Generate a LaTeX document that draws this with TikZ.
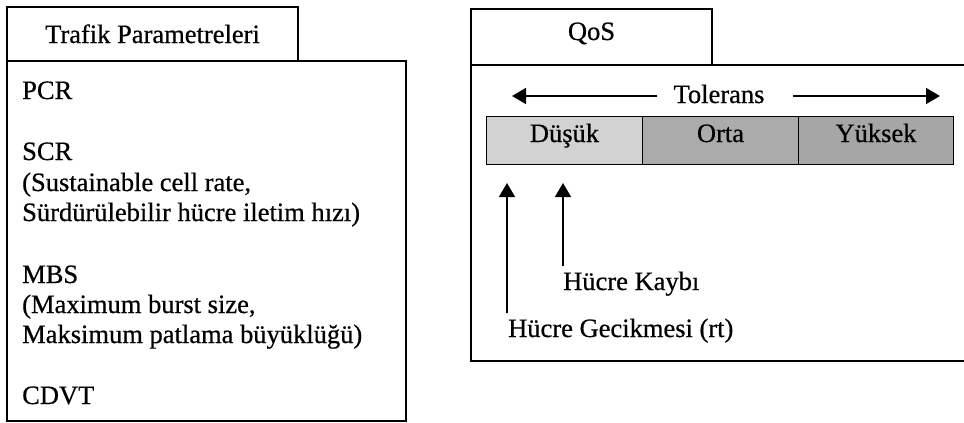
\documentclass[tikz,border=0pt]{standalone}
\usepackage{fontspec}
\setmainfont{Liberation Serif}[FakeBold=0.6]
\usetikzlibrary{arrows.meta}
\definecolor{lowgray}{HTML}{D2D2D2}
\definecolor{midgray}{HTML}{ABABAB}
\definecolor{highgray}{HTML}{A6A6A6}
\tikzset{
  frame/.style={draw=black, line width=1.3pt},
  lbl/.style={inner sep=0pt, font=\fontsize{26.5}{29.5}\selectfont},
  item/.style={lbl, anchor=base west},
  cell/.style={draw=black, line width=1pt, inner sep=0pt, anchor=north west,
               minimum height=48pt},
  bigarrow/.style={line width=1.6pt, -{Triangle[length=14pt,width=16pt]}},
}
\begin{document}
\begin{tikzpicture}[x=1pt,y=-1pt]
\useasboundingbox (0,0) rectangle (964,423);
\fill[white] (0,0) rectangle (964,423);

% left panel: tab and body
\draw[frame] (7,61) -- (7,7) -- (298,7) -- (298,61);
\draw[frame] (7,61) rectangle (406,421);
\node[lbl, anchor=base] (tp) at (152.5,43) {Trafik Parametreleri};
\node[item] (pcr)  at (22,99)  {PCR};
\node[item] (scr)  at (22,160) {SCR};
\node[item] (scr1) at (22,191) {(Sustainable cell rate,};
\node[item] (scr2) at (22,221) {Sürdürülebilir hücre iletim hızı)};
\node[item] (mbs)  at (22,283) {MBS};
\node[item] (mbs1) at (22,313) {(Maximum burst size,};
\node[item] (mbs2) at (22,343) {Maksimum patlama büyüklüğü)};
\node[item] (cdvt) at (22,404) {CDVT};

% right panel: tab and body
\draw[frame] (471,65) -- (471,9) -- (712,9) -- (712,65);
\draw[frame] (971,65) -- (471,65) -- (471,361) -- (971,361);
\node[lbl, anchor=base] (qos) at (591.5,40) {QoS};

% tolerance scale
\node[lbl, anchor=base] (tol) at (719,103) {Tolerans};
\coordinate (tolL) at (512,96);
\coordinate (tolR) at (940,96);
\draw[bigarrow] (tol.west |- tolL) ++(-16,0) -- (tolL);
\draw[bigarrow] (tol.east |- tolR) ++(28,0) -- (tolR);

\node[cell, fill=lowgray,  minimum width=156pt] (low)  at (486,116) {};
\node[cell, fill=midgray,  minimum width=156pt] (mid)  at (642,116) {};
\node[cell, fill=highgray, minimum width=155pt] (high) at (798,116) {};
\node[lbl, anchor=base] at (low.center |- 0,142)  {Düşük};
\node[lbl, anchor=base] at (mid.center |- 0,142)  {Orta};
\node[lbl, anchor=base] at (high.center |- 0,142) {Yüksek};

% measured quantities
\node[item] (loss)  at (563,290) {Hücre Kaybı};
\node[item] (delay) at (508,337) {Hücre Gecikmesi (rt)};
\coordinate (delayTip) at (507,183);
\coordinate (lossTip) at (563,183);
\draw[bigarrow, line width=1.3pt] (delay.north west -| delayTip) ++(0,-5) -- (delayTip);
\draw[bigarrow, line width=1.3pt] (loss.north west -| lossTip) ++(0,-5) -- (lossTip);
\end{tikzpicture}
\end{document}
